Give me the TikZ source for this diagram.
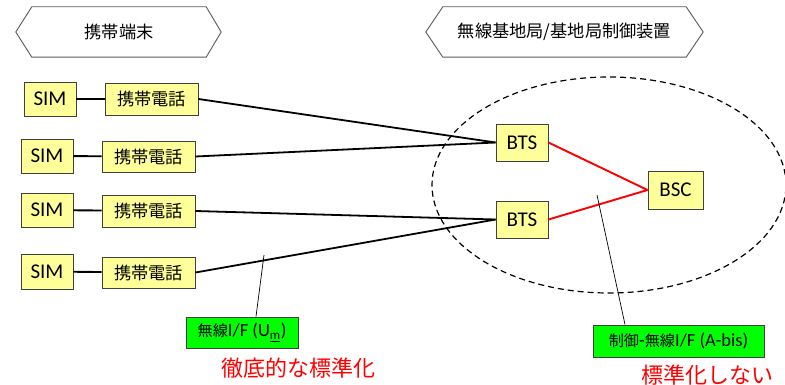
\documentclass[tikz,border=0pt]{standalone}
\usepackage{fontspec}
\usetikzlibrary{shapes.geometric}
\setmainfont{Carlito}
\newfontfamily\jp[Scale=0.82]{Noto Sans CJK JP}
\newfontfamily\jpr{Noto Sans CJK JP}
\definecolor{boxyellow}{HTML}{FFFF99}
\definecolor{boxgreen}{HTML}{00FF00}
\definecolor{edgegray}{HTML}{404040}
\definecolor{hexgray}{HTML}{595959}
\tikzset{
  ybox/.style={draw=edgegray, line width=0.9pt, fill=boxyellow, inner sep=0pt,
    font=\fontsize{21}{25}\selectfont},
  gbox/.style={draw=edgegray, line width=0.9pt, fill=boxgreen, inner sep=0pt,
    font=\fontsize{18.5}{22}\selectfont},
  hexlabel/.style={inner sep=0pt, minimum height=50pt, font=\fontsize{21}{25}\selectfont},
  hexline/.style={draw=hexgray, line width=0.9pt},
  link/.style={line width=1.8pt, black},
  simlink/.style={line width=1.9pt, black},
  redlink/.style={line width=1.9pt, red},
  leader/.style={line width=0.7pt, black},
  redtext/.style={text=red, inner sep=0pt, font=\fontsize{22}{26}\selectfont\jpr},
}
\begin{document}
\begin{tikzpicture}[x=1pt,y=-1pt]
\useasboundingbox (0,0) rectangle (785,385);
% hexagon headers
\node[hexlabel, minimum width=174pt] (h1) at (119,32) {\jp 携帯端末};
\draw[hexline] (h1.north west) -- (h1.north east) -- ([xshift=15pt]h1.east) -- (h1.south east) -- (h1.south west) -- ([xshift=-16pt]h1.west) -- cycle;
\node[hexlabel, minimum width=243pt] (h2) at (564.5,32) {\jp 無線基地局/基地局制御装置};
\draw[hexline] (h2.north west) -- (h2.north east) -- ([xshift=17pt]h2.east) -- (h2.south east) -- (h2.south west) -- ([xshift=-17pt]h2.west) -- cycle;
% dashed ellipse
\node[draw, dash pattern=on 6pt off 4pt, line width=1.2pt, ellipse, minimum width=354pt, minimum height=216pt, inner sep=0pt] (area) at (609,185) {};
% SIM and phones
\node[ybox, minimum width=52pt, minimum height=34pt] (s1) at (50,99) {SIM};
\node[ybox, minimum width=93pt, minimum height=32pt] (p1) at (151.5,99) {\jp 携帯電話};
\node[ybox, minimum width=52pt, minimum height=34pt] (s2) at (47,156) {SIM};
\node[ybox, minimum width=93pt, minimum height=31pt] (p2) at (148.5,156.5) {\jp 携帯電話};
\node[ybox, minimum width=52pt, minimum height=34pt] (s3) at (47,210) {SIM};
\node[ybox, minimum width=93pt, minimum height=32pt] (p3) at (148.5,211) {\jp 携帯電話};
\node[ybox, minimum width=52pt, minimum height=35pt] (s4) at (47,271.5) {SIM};
\node[ybox, minimum width=93pt, minimum height=31pt] (p4) at (148.5,272.5) {\jp 携帯電話};
% BTS / BSC
\node[ybox, minimum width=52pt, minimum height=37pt] (b1) at (522,142.5) {BTS};
\node[ybox, minimum width=52pt, minimum height=37pt] (b2) at (522,219.5) {BTS};
\node[ybox, minimum width=55pt, minimum height=38pt] (bsc) at (675.5,190) {BSC};
% connectors
\draw[simlink] (s1) -- (p1);
\draw[simlink] (s2) -- (p2);
\draw[simlink] (s3) -- (p3);
\draw[simlink] (s4) -- (p4);
\draw[link] (p1.east) -- (b1.west);
\draw[link] (p2.east) -- (b1.west);
\draw[link] (p3.east) -- (b2.west);
\draw[link] (p4.east) -- (b2.west);
\draw[redlink] (b1.east) -- (bsc.west);
\draw[redlink] (b2.east) -- (bsc.west);
% labels
\node[gbox, minimum width=112pt, minimum height=31pt] (g1) at (242,332.5) {{\jp 無線}I/F (U\textsubscript{\underline{m}})};
\node[gbox, minimum width=171pt, minimum height=32pt] (g2) at (678.5,341) {{\jp 制御}-{\jp 無線}I/F (A-bis)};
\coordinate (l1) at (264,255);
\coordinate (l2) at (597,195);
\draw[leader] ([xshift=14pt]g1.north) -- (l1);
\draw[leader] ([xshift=-53.5pt]g2.north) -- (l2);
\node[redtext] (r1) at (298,368) {徹底的な標準化};
\node[redtext] (r2) at (707,375) {標準化しない};
\end{tikzpicture}
\end{document}
